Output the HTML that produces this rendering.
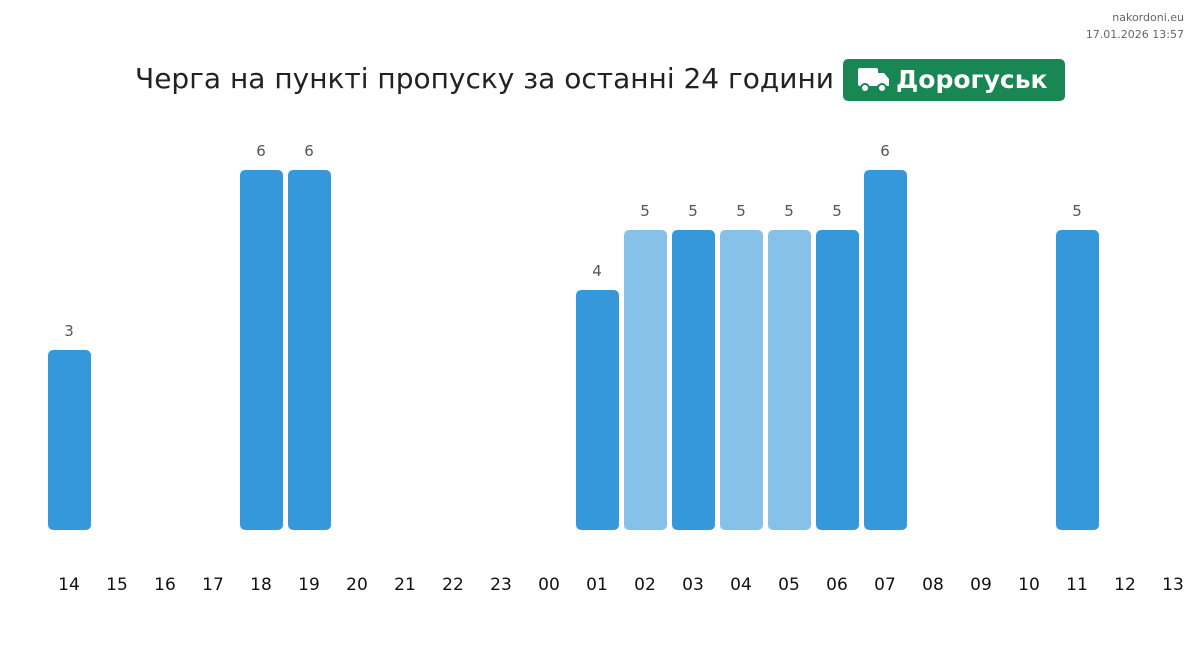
<!DOCTYPE html>
<html><head><meta charset="utf-8"><style>
body{margin:0;width:1200px;height:651px;background:#fff;position:relative;overflow:hidden;font-family:"DejaVu Sans","Liberation Sans",sans-serif}
.a{position:absolute}
.bar{position:absolute;width:43px;bottom:121px;border-radius:5px;background:#3498db}
.l{background:#85c1e9}
.v{position:absolute;width:48px;text-align:center;font-size:15px;color:#555}
.x{position:absolute;width:48px;text-align:center;font-size:17px;color:#111;top:575px}
</style></head><body>
<div class="a" style="right:16px;top:9px;text-align:right;font-size:11px;color:#666;line-height:17px">nakordoni.eu<br>17.01.2026 13:57</div>
<div class="a" style="left:135px;top:62px;font-size:28px;color:#222;white-space:nowrap">Черга на пункті пропуску за останні 24 години</div>
<div class="a" style="left:843px;top:59px;width:222px;height:42px;background:#198754;border-radius:5px;color:#fff;font-weight:bold;font-size:25px;line-height:42px;white-space:nowrap">
<svg class="a" style="left:15px;top:9px" width="32" height="25" viewBox="0 0 32 25"><rect x="0" y="0" width="20" height="18" rx="2" fill="#fff"/><path d="M20 5h6l5 6v7H20z" fill="#fff"/><circle cx="7" cy="20" r="4" fill="#fff" stroke="#198754" stroke-width="2"/><circle cx="24" cy="20" r="4" fill="#fff" stroke="#198754" stroke-width="2"/></svg>
<span class="a" style="left:53px;top:0">Дорогуськ</span></div>
<div id="c"></div>
<script>
var labs=["14","15","16","17","18","19","20","21","22","23","00","01","02","03","04","05","06","07","08","09","10","11","12","13"];
var vals={0:3,4:6,5:6,11:4,12:5,13:5,14:5,15:5,16:5,17:6,21:5};
var light={12:1,14:1,15:1};
var h="";
for(var i=0;i<24;i++){var cx=69+48*i;
h+='<div class="x" style="left:'+(cx-24)+'px">'+labs[i]+'</div>';
if(vals[i]){var t=530-60*vals[i];
h+='<div class="bar'+(light[i]?' l':'')+'" style="left:'+(cx-21)+'px;height:'+(60*vals[i])+'px"></div>';
h+='<div class="v" style="left:'+(cx-24)+'px;top:'+(t-28)+'px">'+vals[i]+'</div>';}}
document.getElementById("c").innerHTML=h;
</script>
</body></html>
